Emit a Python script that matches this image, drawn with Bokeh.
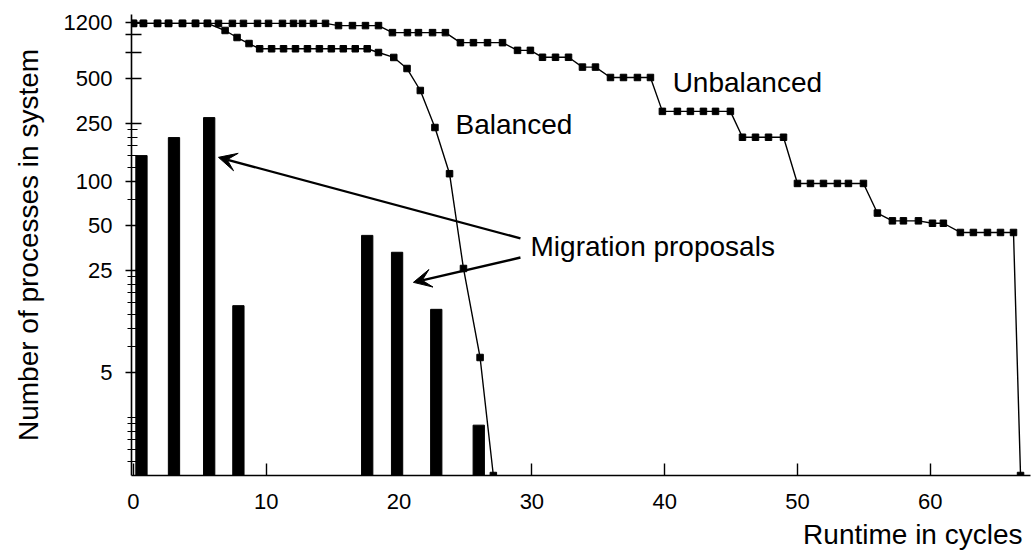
import math
from bokeh.plotting import figure
from bokeh.models import (Range1d, FixedTicker, BasicTickFormatter, Label,
                          Arrow, VeeHead, Title)
from bokeh.embed import file_html
from bokeh.resources import INLINE

# ---------------- data ----------------
unbalanced_x = [0, 0.75, 1.81, 2.64, 3.69, 4.67, 5.57, 6.40, 7.45, 8.28, 9.34,
                10.17, 11.22, 12.05, 12.73, 13.55, 14.46,
                15.44, 16.49, 17.47, 18.45,
                19.50, 20.63, 21.46, 22.52, 23.49,
                24.62, 25.60, 26.66, 27.79,
                28.92, 29.89,
                30.80, 31.78, 32.76,
                33.81, 34.79,
                35.92, 36.90, 37.95, 38.93,
                39.83, 40.96, 41.94, 42.92, 43.83, 44.95,
                45.86, 46.84, 47.82, 48.95,
                50.00, 50.98, 51.96, 53.01, 53.84, 54.97,
                56.02,
                57.15, 57.98, 59.11, 60.17, 60.99,
                62.27, 63.25, 64.31, 65.29, 66.27,
                66.80]
unbalanced_y = [1190, 1190, 1190, 1190, 1190, 1190, 1190, 1190, 1190, 1190, 1190,
                1190, 1190, 1190, 1190, 1190, 1190,
                1150, 1150, 1150, 1150,
                1030, 1030, 1030, 1030, 1030,
                880, 880, 880, 880,
                780, 780,
                700, 700, 700,
                600, 600,
                510, 510, 510, 510,
                300, 300, 300, 300, 300, 300,
                200, 200, 200, 200,
                97, 97, 97, 97, 97, 97,
                61,
                54, 54, 54, 52, 52,
                45, 45, 45, 45, 45,
                1]

balanced_x = [0, 0.75, 1.81, 2.64, 3.69, 4.67, 5.57,
              6.9, 7.8, 8.7,
              9.5, 10.4, 11.3, 12.2, 13.1, 14.0, 14.9, 15.8, 16.7, 17.6,
              18.45, 19.6, 20.6, 21.6, 22.7, 23.8, 24.85, 26.1, 27.1]
balanced_y = [1190, 1190, 1190, 1190, 1190, 1190, 1190,
              1065, 954, 868,
              800, 800, 800, 800, 800, 800, 800, 800, 800, 800,
              754, 698, 587, 416, 233, 113, 25.6, 6.35, 1]

proposal_x = [0.6, 3.05, 5.7, 7.9, 17.6, 19.85, 22.8, 26.0]
proposal_n = [150, 199, 272, 14.3, 43, 33, 13.5, 2.2]

x_ticks = [0, 10, 20, 30, 40, 50, 60]
y_ticks = [5, 25, 50, 100, 250, 500, 750, 1000, 1200]
y_blank_ticks = [750, 1000]
y_minor_ticks = [1.25, 1.5, 1.75, 2, 2.25, 2.5, 7.5, 10, 12.5, 15, 17.5, 20,
                 22.5, 75, 125, 150, 175, 200, 225]

FONT = "Liberation Sans"

# ---------------- figure ----------------
p = figure(width=1032, height=556, output_backend="svg", toolbar_location=None,
           x_range=Range1d(-0.15, 67.55), y_range=Range1d(1, 1368),
           y_axis_type="log",
           min_border_left=131, min_border_right=2, min_border_top=14,
           min_border_bottom=81)
p.outline_line_color = None
p.xgrid.grid_line_color = None
p.ygrid.grid_line_color = None
p.background_fill_color = "white"
p.border_fill_color = "white"

# x axis
xa = p.xaxis[0]
xa.ticker = FixedTicker(ticks=x_ticks)
xa.major_tick_in = 12
xa.major_tick_out = 0
xa.minor_tick_in = 0
xa.minor_tick_out = 0
xa.axis_line_width = 1.6
xa.axis_line_color = "black"
xa.major_tick_line_color = "black"
xa.major_tick_line_width = 1.4
xa.major_label_text_font = FONT
xa.major_label_text_font_size = "22px"
xa.major_label_text_color = "black"
xa.major_label_standoff = 18

# x axis title, right aligned below the axis
p.add_layout(Title(text="Runtime in cycles", align="right", text_font=FONT,
                   text_font_size="28px", text_font_style="normal",
                   text_color="black", standoff=10, offset=8), "below")

# y axis
ya = p.yaxis[0]
ya.ticker = FixedTicker(ticks=y_ticks, minor_ticks=y_minor_ticks)
ya.formatter = BasicTickFormatter(use_scientific=False)
ya.major_label_overrides = {t: "" for t in y_blank_ticks}
ya.major_tick_in = 10
ya.major_tick_out = 6
ya.minor_tick_in = 6
ya.minor_tick_out = 4
ya.axis_line_width = 1.6
ya.axis_line_color = "black"
ya.major_tick_line_color = "black"
ya.major_tick_line_width = 1.4
ya.minor_tick_line_color = "black"
ya.minor_tick_line_width = 1.2
ya.major_label_text_font = FONT
ya.major_label_text_font_size = "22px"
ya.major_label_text_color = "black"
ya.major_label_standoff = 13
ya.axis_label = "Number of processes in system"
ya.axis_label_text_font = FONT
ya.axis_label_text_font_size = "28px"
ya.axis_label_text_font_style = "normal"
ya.axis_label_text_color = "black"
ya.axis_label_standoff = 17

# bars (migration proposals)
p.vbar(x=proposal_x, top=proposal_n, bottom=1, width=0.85,
       fill_color="black", line_color="black")

# lines with square markers
p.line(unbalanced_x, unbalanced_y, line_color="black", line_width=1.4)
p.scatter(unbalanced_x, unbalanced_y, marker="square", size=6.5,
          fill_color="black", line_color="black")
p.line(balanced_x, balanced_y, line_color="black", line_width=1.4)
p.scatter(balanced_x, balanced_y, marker="square", size=6.5,
          fill_color="black", line_color="black")

# arrows
head1 = VeeHead(size=18, fill_color="black", line_color="black")
p.add_layout(Arrow(end=head1, x_start=29.14, y_start=41, x_end=6.4, y_end=146,
                   line_color="black", line_width=2.4))
head2 = VeeHead(size=18, fill_color="black", line_color="black")
p.add_layout(Arrow(end=head2, x_start=29.14, y_start=30.4, x_end=21.08, y_end=20.6,
                   line_color="black", line_width=2.4))

# annotation texts
def add_text(x, y, txt):
    p.add_layout(Label(x=x, y=y, text=txt, text_font=FONT,
                       text_font_size="28px", text_color="black",
                       text_align="left", text_baseline="middle"))

add_text(40.6, 471, "Unbalanced")
add_text(24.25, 244, "Balanced")
add_text(29.9, 36.1, "Migration proposals")

open("out.html", "w").write(file_html(p, INLINE))
